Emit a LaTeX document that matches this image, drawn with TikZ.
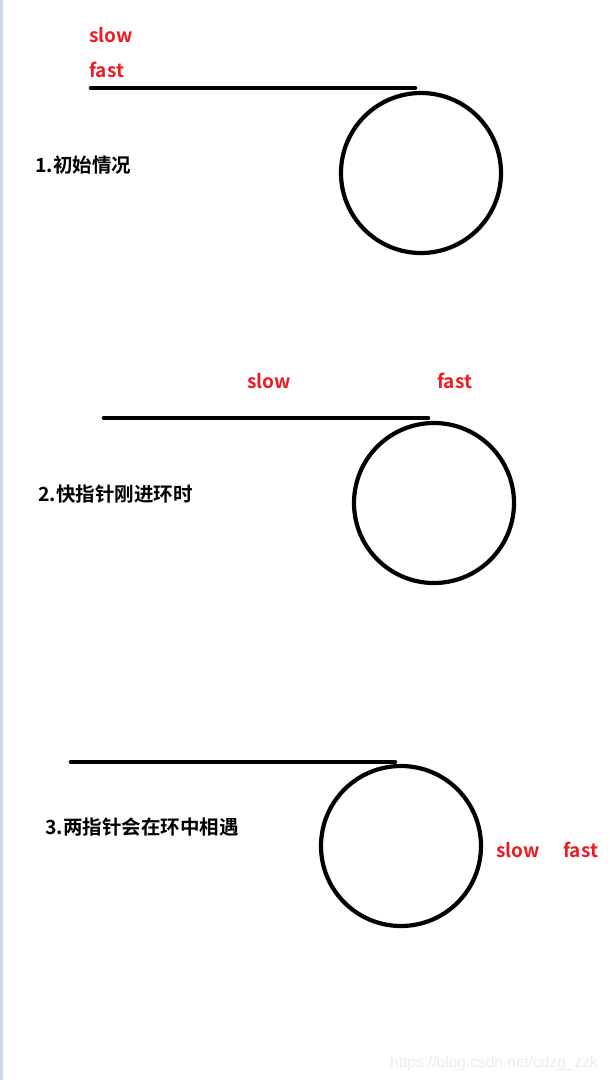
\documentclass[tikz,border=0pt]{standalone}
\usepackage{fontspec}
\newfontfamily\cjk{Noto Sans CJK SC}[BoldFont=* Bold]
\newfontfamily\markfont{Liberation Sans}
\definecolor{ptrred}{RGB}{237,28,36}
\definecolor{stripe}{RGB}{208,217,232}
\definecolor{mark}{RGB}{236,236,236}
\begin{document}
\begin{tikzpicture}[x=1pt,y=-1pt]
	\tikzstyle{ring}=[circle, draw=black, line width=4.2pt, minimum size=160pt, inner sep=0pt]
	\tikzstyle{track}=[line width=4.6pt, line cap=round]
	\tikzstyle{ptr}=[anchor=base west, inner sep=0pt, text=ptrred, font=\cjk\bfseries\fontsize{19}{19}\selectfont]
	\tikzstyle{caption}=[anchor=base west, inner sep=0pt, font=\cjk\bfseries\fontsize{19.5}{19.5}\selectfont]
	\useasboundingbox (0,0) rectangle (610,1080);
	\fill[stripe] (0,0) rectangle (3,1080);
	% Rings
	\foreach \i/\x/\y in {1/421/173, 2/434/503, 3/401/846}
		\node at (\x,\y) [ring] (ring_\i) {};
	% Tracks
	\foreach \i/\x/\y/\e in {1/91/88/415, 2/104/418/428, 3/71/762/395}{
		\coordinate (start_\i) at (\x,\y);
		\coordinate (end_\i) at (\e,\y);
	}
	\foreach \i in {1,...,3}
		\draw [track] (start_\i) -- (end_\i);
	% Captions
	\node at (35,172) [caption] (caption_1) {1.初始情况};
	\node at (38,501) [caption] (caption_2) {2.快指针刚进环时};
	\node at (45,834) [caption] (caption_3) {3.两指针会在环中相遇};
	% Pointers
	\node at (89,42) [ptr] (slow_1) {slow};
	\node at (89,77) [ptr] (fast_1) {fast};
	\node at (247,388) [ptr] (slow_2) {slow};
	\node at (437,388) [ptr] (fast_2) {fast};
	\node at (496,857) [ptr] (slow_3) {slow};
	\node at (563,857) [ptr] (fast_3) {fast};
	% Watermark
	\node at (390,1067) [anchor=base west, inner sep=0pt, text=mark, font=\markfont\fontsize{15.5}{15.5}\selectfont] (source) {https://blog.csdn.net/cdzg\_zzk};
\end{tikzpicture}
\end{document}
